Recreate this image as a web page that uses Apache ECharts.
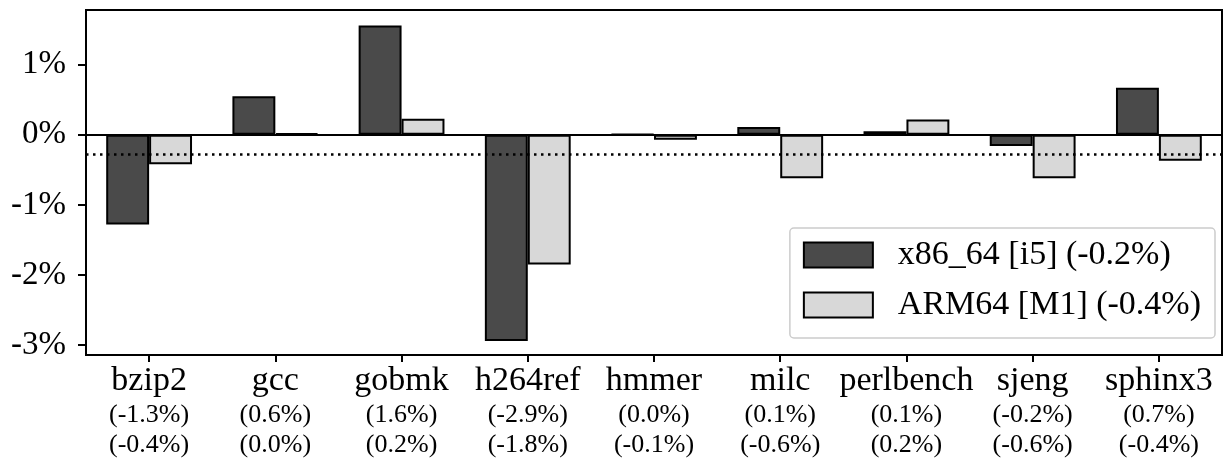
<!DOCTYPE html>
<html>
<head>
<meta charset="utf-8">
<script src="https://cdn.jsdelivr.net/npm/echarts@6/dist/echarts.min.js"></script>
<style>html,body{margin:0;padding:0;background:#fff}#c{width:1224px;height:468px}</style>
</head>
<body>
<div id="c"></div>
<script>
const categories = ['bzip2','gcc','gobmk','h264ref','hmmer','milc','perlbench','sjeng','sphinx3'];
const x86Values = [-1.28, 0.55, 1.56, -2.94, 0.01, 0.11, 0.05, -0.16, 0.67];
const armValues = [-0.42, 0.02, 0.23, -1.85, -0.07, -0.62, 0.22, -0.62, -0.37];
const x86Labels = ['-1.3%','0.6%','1.6%','-2.9%','0.0%','0.1%','0.1%','-0.2%','0.7%'];
const armLabels = ['-0.4%','0.0%','0.2%','-1.8%','-0.1%','-0.6%','0.2%','-0.6%','-0.4%'];
const seriesNames = ['x86_64 [i5] (-0.2%)', 'ARM64 [M1] (-0.4%)'];
const yTicks = [-3, -2, -1, 0, 1];
const avgLine = -0.27;

const FONT = 'Liberation Serif';
const chart = echarts.init(document.getElementById('c'), null, {renderer: 'canvas'});
chart.setOption({
  animation: false,
  backgroundColor: '#fff',
  textStyle: {fontFamily: FONT, color: '#000'},
  grid: {left: 86, right: 2, top: 10, bottom: 113, show: true, borderColor: '#000', borderWidth: 2, containLabel: false},
  legend: {
    orient: 'vertical',
    right: 9, top: 228,
    padding: [10, 14, 16, 13],
    itemWidth: 69, itemHeight: 25, itemGap: 16,
    borderColor: '#cccccc', borderWidth: 1.5, borderRadius: 4,
    backgroundColor: 'rgba(255,255,255,0.8)',
    icon: 'rect',
    textStyle: {fontFamily: FONT, fontSize: 34, lineHeight: 34, color: '#000', padding: [0,0,0,20]},
    itemStyle: {borderColor: '#000', borderWidth: 2},
    data: seriesNames
  },
  xAxis: {
    type: 'category',
    data: categories,
    axisLine: {onZero: false, lineStyle: {color: '#000', width: 2}},
    axisTick: {show: true, alignWithLabel: true, length: 7, lineStyle: {color: '#000', width: 2}},
    axisLabel: {
      margin: 8,
      interval: 0,
      formatter: function (v, i) {
        return '{a|' + v + '}\n{b|(' + x86Labels[i] + ')}\n{b|(' + armLabels[i] + ')}';
      },
      rich: {
        a: {fontFamily: FONT, fontSize: 34, lineHeight: 37, color: '#000'},
        b: {fontFamily: FONT, fontSize: 26, lineHeight: 30, color: '#000'}
      }
    }
  },
  yAxis: {
    type: 'value',
    min: -3.14, max: 1.78,
    splitLine: {show: false},
    axisLine: {show: true, lineStyle: {color: '#000', width: 2}},
    axisTick: {show: true, length: 8, customValues: yTicks, lineStyle: {color: '#000', width: 2}},
    axisLabel: {
      customValues: yTicks,
      margin: 20,
      fontFamily: FONT, fontSize: 33, color: '#000',
      formatter: function (v) { return Math.round(v) + '%'; }
    }
  },
  series: [
    {
      name: seriesNames[0], type: 'bar', data: x86Values,
      barWidth: '34%', barGap: '0%',
      itemStyle: {color: '#4a4a4a', borderColor: '#000', borderWidth: 2},
      markLine: {
        silent: true, symbol: 'none', label: {show: false},
        data: [
          {yAxis: 0, lineStyle: {color: '#000', width: 2, type: 'solid'}},
          {yAxis: avgLine, lineStyle: {color: '#000', width: 2.5, type: [2.5, 4.5]}}
        ]
      }
    },
    {
      name: seriesNames[1], type: 'bar', data: armValues,
      barWidth: '34%', barGap: '0%',
      itemStyle: {color: '#d8d8d8', borderColor: '#000', borderWidth: 2}
    }
  ]
});
</script>
</body>
</html>
